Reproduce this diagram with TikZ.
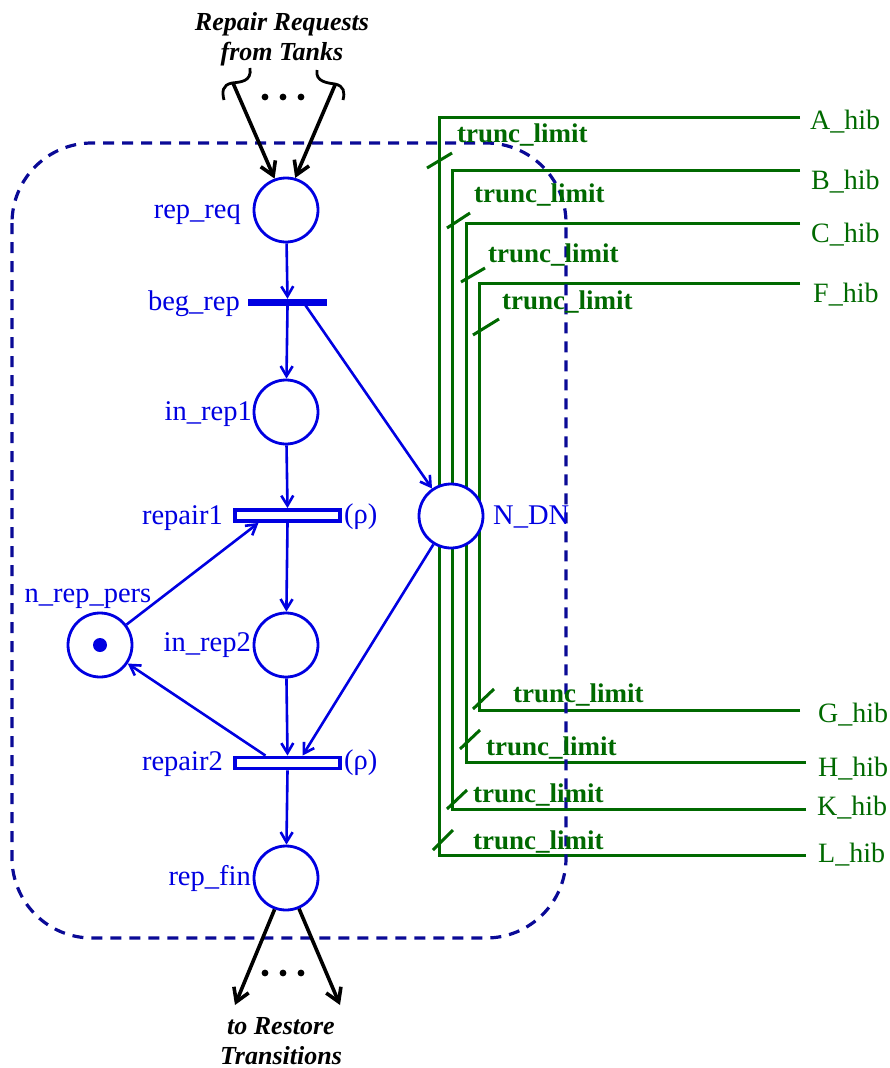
\documentclass[tikz,border=0pt]{standalone}
\usepackage{fontspec}
\setmainfont{Liberation Serif}
\usetikzlibrary{arrows.meta,calc}
\definecolor{pnblue}{RGB}{0,0,225}
\definecolor{boxblue}{RGB}{10,10,150}
\definecolor{pngreen}{RGB}{0,105,0}
\pgfdeclarelayer{bg}
\pgfsetlayers{bg,main}
\begin{document}
\begin{tikzpicture}[x=1pt,y=-1pt,
  place/.style={circle,draw=pnblue,line width=2.8pt,minimum size=64pt,inner sep=0pt,fill=white},
  trans/.style={rectangle,draw=pnblue,line width=3.8pt,minimum width=105pt,minimum height=11pt,inner sep=0pt,fill=white},
  imm/.style={rectangle,fill=pnblue,minimum width=79pt,minimum height=7pt,inner sep=0pt},
  lbl/.style={text=pnblue,font=\fontsize{28.5}{30}\selectfont,inner sep=0pt},
  arc/.style={draw=pnblue,line width=2.6pt,-{Straight Barb[length=10pt,width=12pt]}},
  ext/.style={draw=black,line width=3.6pt,-{Straight Barb[length=13pt,width=16pt]}},
  brace/.style={draw=black,line width=2.8pt},
  inh/.style={draw=pngreen,line width=3pt},
  tl/.style={text=pngreen,font=\fontsize{27}{30}\selectfont\bfseries,inner sep=0pt,anchor=mid west},
  hib/.style={text=pngreen,font=\fontsize{28}{30}\selectfont,inner sep=0pt,anchor=mid west},
  ttl/.style={font=\fontsize{26}{30}\selectfont\bfseries\itshape,align=center,inner sep=0pt},
  dashbox/.style={draw=boxblue,line width=3.2pt,dash pattern=on 11pt off 8pt,rounded corners=80pt},
]
\path[use as bounding box] (0,0) rectangle (889,1068);

% places and transitions
\node[place] (repreq) at (286,210) {};
\node[imm] (begrep) at (287.5,302.5) {};
\node[place] (inrep1) at (286,412) {};
\node[trans] (repair1) at (287.5,515.5) {};
\node[place] (inrep2) at (286,645) {};
\node[place] (npers) at (100,645) {};
\fill[pnblue] (npers.center) circle (7pt);
\node[trans] (repair2) at (287.5,763) {};
\node[place] (repfin) at (286,878) {};
\node[place] (NDN) at (451,516) {};

% labels
\node[lbl,anchor=mid east] (l1) at (241,216) {rep\_req};
\node[lbl,anchor=mid east] (l2) at (240,308) {beg\_rep};
\node[lbl,anchor=mid east] (l3) at (252,418) {in\_rep1};
\node[lbl,anchor=mid east] (l4) at (223,522) {repair1};
\node[lbl,anchor=mid] (l5) at (88,600) {n\_rep\_pers};
\node[lbl,anchor=mid east] (l6) at (251,649) {in\_rep2};
\node[lbl,anchor=mid east] (l7) at (223,768) {repair2};
\node[lbl,anchor=mid east] (l8) at (251,883) {rep\_fin};
\node[lbl,anchor=mid west] (l9) at (493,522) {N\_DN};
\node[lbl,anchor=mid west] (rho1) at (344,521) {(ρ)};
\node[lbl,anchor=mid west] (rho2) at (344,767) {(ρ)};

% arcs
\draw[arc] (repreq) -- (begrep.north);
\draw[arc] (begrep.south) -- (inrep1);
\draw[arc] ([xshift=16pt]begrep.center) -- (NDN);
\draw[arc] (inrep1) -- (repair1.north);
\draw[arc] (repair1.south) -- (inrep2);
\draw[arc] (npers) -- ([xshift=-29pt]repair1.south);
\draw[arc] ([xshift=-22pt]repair2.north) -- (npers);
\draw[arc] (inrep2) -- (repair2.north);
\draw[arc] (NDN) -- ([xshift=15pt]repair2.north);
\draw[arc] (repair2.south) -- (repfin);

% external arrows
\node[ttl] (tin) at (282,39) {Repair Requests\\from Tanks};
\node[ttl] (tout) at (281,1041) {to Restore\\Transitions};
\coordinate (inL) at (233,83);
\coordinate (inR) at (335,85);
\coordinate (outL) at (235,1005);
\coordinate (outR) at (340,1005);
\draw[brace] (250,68) .. controls (252,82) and (240,82) .. (232,83) .. controls (222,85) and (222,92) .. (224,100);
\draw[brace] (317,70) .. controls (315,82) and (328,83) .. (335,84) .. controls (344,86) and (345,92) .. (343,100);
\draw[ext] (inL) -- (repreq.110);
\draw[ext] (inR) -- (repreq.74);
\draw[ext] (repfin.250) -- (outL);
\draw[ext] (repfin.293) -- (outR);
\foreach \x in {265,283,301} {
  \fill (\x,97) circle (3.4pt);
  \fill (\x,973) circle (3.4pt);
}

% hib labels
\node[hib] (Ahib) at (810,127) {A\_hib};
\node[hib] (Bhib) at (811,187) {B\_hib};
\node[hib] (Chib) at (811,240) {C\_hib};
\node[hib] (Fhib) at (813,300) {F\_hib};
\node[hib] (Ghib) at (818,720) {G\_hib};
\node[hib] (Hhib) at (818,774) {H\_hib};
\node[hib] (Khib) at (817,813) {K\_hib};
\node[hib] (Lhib) at (818,860) {L\_hib};
\coordinate (Ae) at (800,117);
\coordinate (Be) at (800,170);
\coordinate (Ce) at (800,223);
\coordinate (Fe) at (800,283);
\coordinate (Ge) at (800,710);
\coordinate (He) at (806,762);
\coordinate (Ke) at (806,809);
\coordinate (Le) at (806,855);

% trunc limit labels
\node[tl] (tA) at (457,140) {trunc\_limit};
\node[tl] (tB) at (474,200) {trunc\_limit};
\node[tl] (tC) at (488,260) {trunc\_limit};
\node[tl] (tF) at (502,307) {trunc\_limit};
\node[tl] (tG) at (513,700) {trunc\_limit};
\node[tl] (tH) at (486,753) {trunc\_limit};
\node[tl] (tK) at (473,800) {trunc\_limit};
\node[tl] (tL) at (473,847) {trunc\_limit};

\begin{pgfonlayer}{bg}
\draw[inh] (Ae) -| ([xshift=-12pt]NDN.center);
\draw[inh] (Be) -| ([xshift=1pt]NDN.center);
\draw[inh] (Ce) -| ([xshift=15pt]NDN.center);
\draw[inh] (Fe) -| ([xshift=28pt]NDN.center);
\draw[inh] (Ge) -| ([xshift=28pt]NDN.center);
\draw[inh] (He) -| ([xshift=15pt]NDN.center);
\draw[inh] (Ke) -| ([xshift=1pt]NDN.center);
\draw[inh] (Le) -| ([xshift=-12pt]NDN.center);
% truncation ticks
\draw[inh] (427,168) -- (452,153);
\draw[inh] (447,228) -- (470,213);
\draw[inh] (461,282) -- (485,268);
\draw[inh] (473,335) -- (499,319);
\draw[inh] (473,709) -- (494,689);
\draw[inh] (460,749) -- (480,730);
\draw[inh] (447,809) -- (467,790);
\draw[inh] (433,850) -- (453,830);
% dashed boundary
\draw[dashbox] (12,143) rectangle (566,938);
\end{pgfonlayer}
\end{tikzpicture}
\end{document}
